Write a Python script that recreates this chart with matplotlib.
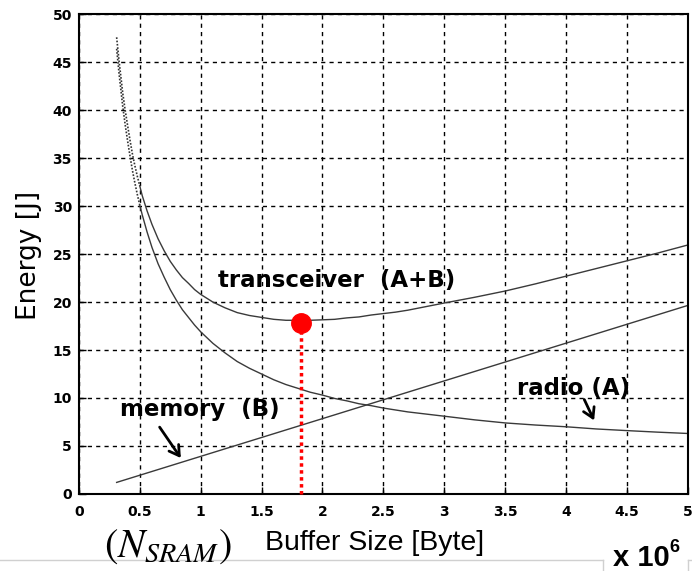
import matplotlib
matplotlib.use("Agg")
import matplotlib.pyplot as plt
from matplotlib.lines import Line2D

# buffer size in units of 1e6 bytes, energy in J
buffer_x = [0.31, 0.33, 0.36, 0.38, 0.40, 0.42, 0.44, 0.46, 0.48, 0.50, 0.52, 0.56,
            0.60, 0.65, 0.70, 0.75, 0.80, 0.85, 0.90, 0.95, 1.0, 1.1, 1.2, 1.3, 1.4,
            1.5, 1.6, 1.7, 1.8, 1.9, 2.0, 2.1, 2.2, 2.3, 2.4, 2.5, 2.6, 2.7, 2.8,
            3.0, 3.25, 3.5, 3.75, 4.0, 4.25, 4.5, 4.75, 5.0]
radio_energy = [46.4, 43.8, 40.4, 38.5, 36.8, 35.2, 33.7, 32.4, 31.2, 30.1, 29.1, 27.3,
                25.7, 24.0, 22.6, 21.3, 20.2, 19.2, 18.4, 17.6, 16.9, 15.7, 14.7, 13.8,
                13.1, 12.5, 11.9, 11.4, 11.0, 10.6, 10.3, 9.95, 9.7, 9.4, 9.2, 8.95,
                8.75, 8.55, 8.4, 8.1, 7.72, 7.4, 7.18, 7.0, 6.77, 6.6, 6.44, 6.3]
transceiver_energy = [47.6, 45.1, 41.8, 40.0, 38.4, 36.85, 35.4, 34.2, 33.1, 32.1, 31.1,
                      29.5, 28.1, 26.6, 25.35, 24.25, 23.35, 22.55, 21.95, 21.3, 20.8,
                      20.0, 19.4, 18.9, 18.6, 18.4, 18.2, 18.1, 18.1, 18.1, 18.15, 18.2,
                      18.35, 18.45, 18.65, 18.8, 18.95, 19.15, 19.4, 19.9, 20.5, 21.15,
                      21.9, 22.7, 23.5, 24.3, 25.1, 25.95]
memory_x = [0.31, 5.0]
memory_energy = [1.2, 19.65]

optimum_x = 1.82
optimum_energy = 17.8

x_ticks = [0, 0.5, 1, 1.5, 2, 2.5, 3, 3.5, 4, 4.5, 5]
x_tick_labels = ["0", "0.5", "1", "1.5", "2", "2.5", "3", "3.5", "4", "4.5", "5"]
y_ticks = [0, 5, 10, 15, 20, 25, 30, 35, 40, 45, 50]

plt.rcParams["mathtext.fontset"] = "stix"

fig = plt.figure(figsize=(6.92, 5.71), dpi=100)
ax = fig.add_axes([0.114, 0.135, 0.880, 0.840])

curve_col = "#3a3a3a"
steep = 10  # the steep part looks dotted in the original scan
for ys in (radio_energy, transceiver_energy):
    ax.plot(buffer_x[:steep], ys[:steep], color="#333333", linewidth=1.2,
            linestyle=(0, (1, 1)))
    ax.plot(buffer_x[steep - 1:], ys[steep - 1:], color=curve_col, linewidth=1.0)
ax.plot(memory_x, memory_energy, color=curve_col, linewidth=1.0)

ax.plot([optimum_x, optimum_x], [0, optimum_energy], color="red",
        linestyle=(0, (1, 1)), linewidth=2.5, clip_on=False, zorder=4)
ax.plot([optimum_x], [optimum_energy], "o", color="red", markersize=14, zorder=5)

ax.set_xlim(0, 5)
ax.set_ylim(0, 50)
ax.set_xticks(x_ticks)
ax.set_xticklabels(x_tick_labels)
ax.set_yticks(y_ticks)
ax.grid(True, color="black", linestyle=(0, (3, 3)), linewidth=1.0)
ax.tick_params(direction="in", length=5, width=1)
ax.tick_params(axis="x", pad=8)
ax.tick_params(axis="y", pad=5)
for lab in ax.get_xticklabels() + ax.get_yticklabels():
    lab.set_fontfamily("DejaVu Sans")
    lab.set_fontweight("bold")
    lab.set_fontsize(10)
for sp in ax.spines.values():
    sp.set_linewidth(1.5)

ann_font = dict(family="DejaVu Sans", fontweight="bold", fontsize=16.5, color="black")
ax.text(2.12, 22.2, "transceiver  (A+B)", ha="center", va="center", **ann_font)
ax.text(0.99, 8.75, "memory  (B)", ha="center", va="center", **ann_font)
ax.text(4.06, 11.0, "radio (A)", ha="center", va="center", **ann_font)

arrow = dict(arrowstyle="->,head_length=0.5,head_width=0.3", color="black",
             linewidth=2, mutation_scale=14)
ax.annotate("", xy=(0.85, 3.5), xytext=(0.65, 7.2), arrowprops=arrow)
ax.annotate("", xy=(4.24, 7.4), xytext=(4.14, 10.1), arrowprops=arrow)

fig.text(0.042, 0.553, "Energy [J]", rotation=90, ha="center", va="center",
         family="DejaVu Sans", fontsize=19)
fig.text(0.150, 0.0245, r"$(N_{SRAM})$", ha="left", va="baseline", fontsize=29)
fig.text(0.383, 0.0368, "Buffer Size [Byte]", ha="left", va="baseline",
         family="Liberation Sans", fontsize=20.5)
fig.text(0.886, 0.0088, "x 10", ha="left", va="baseline",
         family="Liberation Sans", fontweight="bold", fontsize=21)
fig.text(0.968, 0.033, "6", ha="left", va="baseline",
         family="Liberation Sans", fontweight="bold", fontsize=13)

# faint frame lines left under the axis label in the original
fig.add_artist(Line2D([0.0, 0.871], [0.019, 0.019], color="#d0d0d0", linewidth=1))
fig.add_artist(Line2D([0.871, 0.871], [0.0, 0.019], color="#d0d0d0", linewidth=1))
fig.add_artist(Line2D([0.994, 1.0], [0.019, 0.019], color="#d0d0d0", linewidth=1))
fig.add_artist(Line2D([0.994, 0.994], [0.0, 0.019], color="#d0d0d0", linewidth=1))

fig.savefig("out.png", dpi=100)
plt.close(fig)
